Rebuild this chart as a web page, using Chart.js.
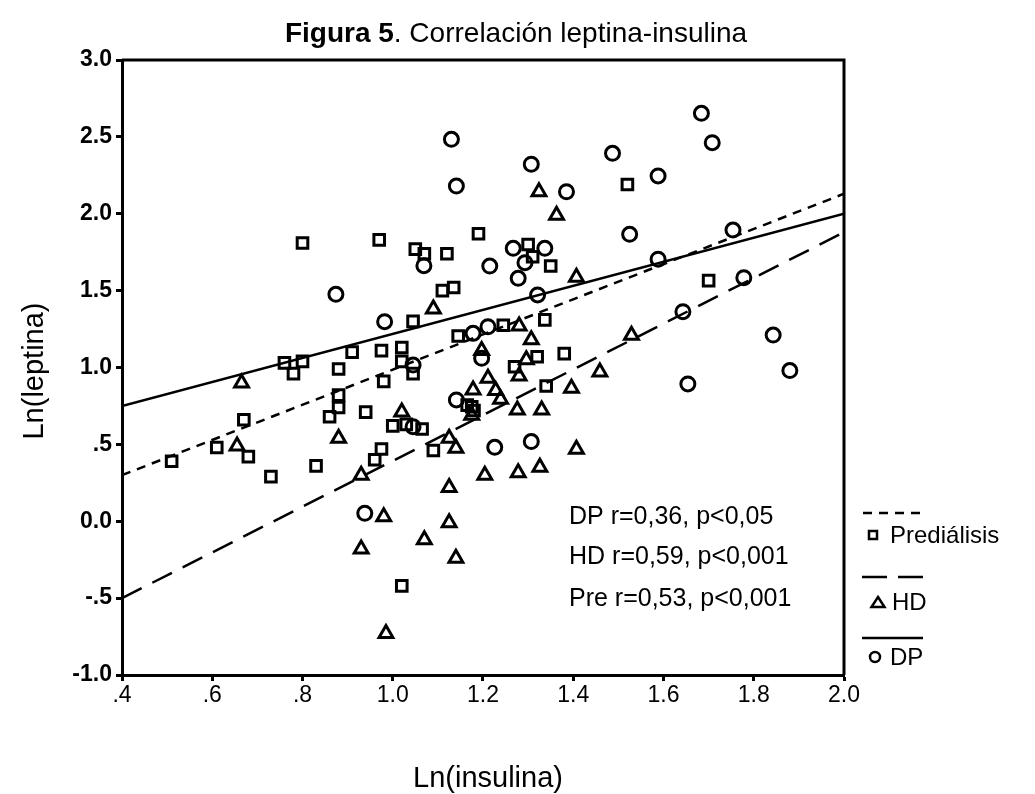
<!DOCTYPE html>
<html>
<head>
<meta charset="utf-8">
<title>Figura 5. Correlación leptina-insulina</title>
<script src="https://cdn.jsdelivr.net/npm/chart.js@4/dist/chart.umd.min.js"></script>
<style>
  html, body { margin: 0; padding: 0; background: #fff; }
  #grafico { display: block; }
</style>
</head>
<body>
<canvas id="grafico" width="1035" height="794"></canvas>
<script>
// Prediálisis (cuadrados)
const preX = [0.51, 0.61, 0.68, 0.67, 0.73, 0.76, 0.78, 0.80, 0.83, 0.86, 0.88, 0.88, 0.88, 0.91, 0.94,
  0.96, 0.975, 0.98, 0.975, 1.02, 1.02, 1.045, 1.00, 1.03, 1.065, 1.02, 1.09, 0.80, 0.97, 1.05,
  1.07, 1.12, 1.19, 1.11, 1.135, 1.045, 1.145, 1.245, 1.337, 1.30, 1.31, 1.35, 1.52, 1.70, 1.32,
  1.38, 1.27, 1.34, 1.165, 1.175, 1.18];
const preY = [0.39, 0.48, 0.42, 0.66, 0.29, 1.03, 0.96, 1.04, 0.36, 0.68, 0.74, 0.82, 0.99, 1.10, 0.71,
  0.40, 0.47, 0.91, 1.11, 1.13, 1.04, 0.96, 0.62, 0.63, 0.60, -0.42, 0.46, 1.81, 1.83, 1.77,
  1.74, 1.74, 1.87, 1.50, 1.52, 1.30, 1.205, 1.275, 1.31, 1.80, 1.72, 1.66, 2.19, 1.565, 1.07,
  1.09, 1.005, 0.88, 0.755, 0.745, 0.72];

// HD (triángulos)
const hdX = [0.655, 0.665, 0.88, 0.93, 0.98, 0.93, 0.985, 1.02, 1.07, 1.125, 1.14, 1.125, 1.125, 1.14,
  1.175, 1.178, 1.09, 1.197, 1.28, 1.307, 1.296, 1.28, 1.211, 1.228, 1.239, 1.276, 1.33, 1.396,
  1.459, 1.407, 1.204, 1.278, 1.326, 1.324, 1.363, 1.407, 1.529];
const hdY = [0.49, 0.90, 0.54, 0.30, 0.03, -0.18, -0.73, 0.71, -0.12, 0.54, 0.475, 0.22, -0.01, -0.24,
  0.69, 0.854, 1.38, 1.11, 1.27, 1.18, 1.05, 0.945, 0.93, 0.85, 0.793, 0.724, 0.724, 0.865,
  0.97, 0.468, 0.30, 0.316, 0.351, 2.143, 1.99, 1.587, 1.21];

// DP (círculos)
const dpX = [0.874, 0.982, 0.938, 1.045, 1.045, 1.069, 1.13, 1.141, 1.141, 1.178, 1.211, 1.197, 1.215,
  1.267, 1.293, 1.278, 1.337, 1.321, 1.307, 1.385, 1.487, 1.588, 1.684, 1.708, 1.525, 1.588,
  1.754, 1.778, 1.643, 1.654, 1.843, 1.88, 1.226, 1.307];
const dpY = [1.476, 1.298, 0.052, 1.016, 0.615, 1.662, 2.484, 2.18, 0.789, 1.222, 1.265, 1.06, 1.66,
  1.775, 1.682, 1.58, 1.775, 1.472, 2.322, 2.143, 2.393, 2.246, 2.653, 2.462, 1.866, 1.704,
  1.894, 1.584, 1.363, 0.893, 1.211, 0.98, 0.481, 0.518];

// rectas de regresión (extremos del eje x)
const lineX = [0.4, 2.0];
const preLine = [0.30, 2.13];
const hdLine = [-0.50, 1.88];
const dpLine = [0.75, 2.00];

const xTickLabels = [".4", ".6", ".8", "1.0", "1.2", "1.4", "1.6", "1.8", "2.0"];
const yTickLabels = ["-1.0", "-.5", "0.0", ".5", "1.0", "1.5", "2.0", "2.5", "3.0"];

const notas = ["DP r=0,36, p<0,05", "HD r=0,59, p<0,001", "Pre r=0,53, p<0,001"];

const FONT = '"Liberation Sans", Arial, Helvetica, sans-serif';

const puntos = (xs, ys) => xs.map((x, i) => ({ x: x, y: ys[i] }));

const marca = (estilo, radio) => ({
  type: "scatter",
  pointStyle: estilo,
  pointRadius: radio,
  pointHoverRadius: radio,
  pointBorderWidth: 3,
  pointBorderColor: "#000",
  pointBackgroundColor: "rgba(0,0,0,0)",
  showLine: false
});

const recta = (ys, dash) => ({
  type: "line",
  data: puntos(lineX, ys),
  borderColor: "#000",
  borderWidth: 2.5,
  borderDash: dash,
  pointRadius: 0,
  fill: false
});

// Dibuja marco, títulos, notas y leyenda
const decoracion = {
  id: "decoracion",
  afterDraw(chart) {
    const ctx = chart.ctx;
    const area = chart.chartArea;
    ctx.save();
    ctx.fillStyle = "#000";
    ctx.strokeStyle = "#000";

    // marco superior y derecho
    ctx.lineWidth = 3;
    ctx.beginPath();
    ctx.moveTo(area.left, area.top);
    ctx.lineTo(area.right, area.top);
    ctx.lineTo(area.right, area.bottom);
    ctx.stroke();

    // título
    const negrita = "Figura 5";
    const resto = ". Correlación leptina-insulina";
    ctx.textBaseline = "middle";
    ctx.font = "bold 28px " + FONT;
    const w1 = ctx.measureText(negrita).width;
    ctx.font = "28px " + FONT;
    const w2 = ctx.measureText(resto).width;
    const x0 = 516 - (w1 + w2) / 2;
    ctx.textAlign = "left";
    ctx.font = "bold 28px " + FONT;
    ctx.fillText(negrita, x0, 34);
    ctx.font = "28px " + FONT;
    ctx.fillText(resto, x0 + w1, 34);

    // títulos de ejes
    ctx.textAlign = "center";
    ctx.font = "29px " + FONT;
    ctx.fillText("Ln(insulina)", 488, 779);
    ctx.save();
    ctx.translate(35, 371);
    ctx.rotate(-Math.PI / 2);
    ctx.fillText("Ln(leptina)", 0, 0);
    ctx.restore();

    // notas de correlación
    ctx.textAlign = "left";
    ctx.font = "25px " + FONT;
    const notaY = [517, 557, 599];
    notas.forEach((t, i) => ctx.fillText(t, 569, notaY[i]));

    // leyenda
    ctx.lineWidth = 2.5;
    ctx.setLineDash([9, 7]);
    ctx.beginPath();
    ctx.moveTo(863, 513);
    ctx.lineTo(922, 513);
    ctx.stroke();
    ctx.setLineDash([25, 11]);
    ctx.beginPath();
    ctx.moveTo(862, 577);
    ctx.lineTo(923, 577);
    ctx.stroke();
    ctx.setLineDash([]);
    ctx.beginPath();
    ctx.moveTo(862, 638);
    ctx.lineTo(923, 638);
    ctx.stroke();

    ctx.lineWidth = 2.5;
    ctx.strokeRect(869, 531, 8, 8);
    ctx.beginPath();
    ctx.moveTo(878, 597);
    ctx.lineTo(884.5, 607);
    ctx.lineTo(871.5, 607);
    ctx.closePath();
    ctx.stroke();
    ctx.beginPath();
    ctx.arc(875, 657, 5, 0, Math.PI * 2);
    ctx.stroke();

    ctx.font = "24px " + FONT;
    ctx.fillText("Prediálisis", 890, 536);
    ctx.fillText("HD", 892, 603);
    ctx.fillText("DP", 890, 658);
    ctx.restore();
  }
};

new Chart(document.getElementById("grafico").getContext("2d"), {
  type: "scatter",
  data: {
    datasets: [
      Object.assign({ label: "Prediálisis", data: puntos(preX, preY) }, marca("rect", 7.5)),
      Object.assign({ label: "HD", data: puntos(hdX, hdY) }, marca("triangle", 8)),
      Object.assign({ label: "DP", data: puntos(dpX, dpY) }, marca("circle", 7)),
      Object.assign({ label: "Pre recta" }, recta(preLine, [9, 7])),
      Object.assign({ label: "HD recta" }, recta(hdLine, [22, 12])),
      Object.assign({ label: "DP recta" }, recta(dpLine, []))
    ]
  },
  options: {
    responsive: false,
    animation: false,
    layout: { padding: { top: 60, right: 191, left: 0, bottom: 0 } },
    plugins: {
      legend: { display: false },
      title: { display: false },
      tooltip: { enabled: false }
    },
    scales: {
      x: {
        type: "linear",
        min: 0.4,
        max: 2.0,
        afterFit(scale) { scale.height = 119; },
        ticks: {
          stepSize: 0.2,
          color: "#000",
          padding: 1,
          maxRotation: 0,
          autoSkip: false,
          font: { family: FONT, size: 23 },
          callback: (v, i) => xTickLabels[i]
        },
        grid: { drawOnChartArea: false, drawTicks: true, tickLength: 6, tickWidth: 3, tickColor: "#000" },
        border: { display: true, color: "#000", width: 3 }
      },
      y: {
        type: "linear",
        min: -1,
        max: 3,
        afterFit(scale) { scale.width = 122; },
        ticks: {
          stepSize: 0.5,
          color: "#000",
          padding: 4,
          autoSkip: false,
          font: { family: FONT, size: 23, weight: "bold" },
          callback: (v, i) => yTickLabels[i]
        },
        grid: { drawOnChartArea: false, drawTicks: true, tickLength: 6, tickWidth: 3, tickColor: "#000" },
        border: { display: true, color: "#000", width: 3 }
      }
    }
  },
  plugins: [decoracion]
});
</script>
</body>
</html>
